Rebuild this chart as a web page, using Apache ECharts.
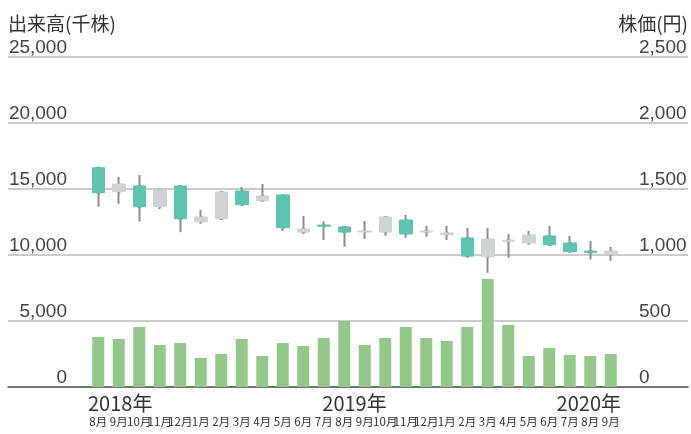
<!DOCTYPE html>
<html>
<head>
<meta charset="utf-8">
<script src="https://cdn.jsdelivr.net/npm/echarts@6/dist/echarts.min.js"></script>
<style>
  html, body { margin: 0; padding: 0; background: #fff; }
  #main { width: 691px; height: 434px; }
</style>
</head>
<body>
<div id="main"></div>
<script>
// 月 (2018年8月〜2020年9月)
var months = ['8月','9月','10月','11月','12月','1月','2月','3月','4月','5月','6月','7月','8月',
              '9月','10月','11月','12月','1月','2月','3月','4月','5月','6月','7月','8月','9月'];
var yearLabels = ['2018年', '2019年', '2020年'];

// 出来高 (千株)
var volume = [3790, 3640, 4550, 3180, 3330, 2200, 2500, 3640, 2350, 3330, 3110, 3710, 5000,
              3180, 3710, 4550, 3710, 3490, 4550, 8180, 4700, 2350, 2950, 2420, 2350, 2500];

// 株価 (円) : 始値, 終値, 安値, 高値
var openP  = [1661, 1480, 1523, 1366, 1523, 1252, 1275, 1485, 1411, 1455, 1174, 1227, 1212,
              1174, 1174, 1265, 1174, 1154, 1129,  987, 1104, 1091, 1144, 1091, 1030, 1003];
var closeP = [1472, 1538, 1366, 1492, 1275, 1288, 1477, 1381, 1447, 1207, 1197, 1218, 1174,
              1182, 1288, 1159, 1182, 1167,  992, 1121, 1112, 1152, 1078, 1025, 1018, 1030];
var lowP   = [1366, 1389, 1252, 1349, 1172, 1237, 1265, 1371, 1411, 1182, 1159, 1114, 1063,
              1121, 1146, 1129, 1139, 1114,  977,  866,  980, 1078, 1068, 1025,  965,  957];
var highP  = [1669, 1591, 1606, 1502, 1530, 1341, 1487, 1515, 1538, 1462, 1295, 1255, 1220,
              1258, 1288, 1303, 1220, 1220, 1205, 1202, 1159, 1182, 1220, 1144, 1106, 1061];

var volTicks = [0, 25000, 5000];   // min, max, interval
var priceTicks = [0, 2500, 500];

function comma(v) {
    return String(v).replace(/\B(?=(\d{3})+(?!\d))/g, ',');
}

// ヒゲ用 と 実体用
var candleFull = [], candleBody = [];
for (var i = 0; i < months.length; i++) {
    candleFull.push([openP[i], closeP[i], lowP[i], highP[i]]);
    candleBody.push([openP[i], closeP[i], Math.min(openP[i], closeP[i]), Math.max(openP[i], closeP[i])]);
}

var chart = echarts.init(document.getElementById('main'));

var labelFont = { fontFamily: 'Liberation Sans, Arial, sans-serif', fontSize: 19, color: '#444' };
var cjk = '"Noto Sans CJK JP", sans-serif';

var option = {
    animation: false,
    title: [
        { text: '出来高(千株)', left: 3, top: 9,
          textStyle: { fontFamily: cjk, fontSize: 19, fontWeight: 'normal', color: '#333' } },
        { text: '株価(円)', right: -2, top: 9,
          textStyle: { fontFamily: cjk, fontSize: 19, fontWeight: 'normal', color: '#333' } }
    ],
    grid: [
        { left: 8, right: 3, top: 57, bottom: 47 },
        { left: 88, right: 70, top: 57, bottom: 47 }
    ],
    xAxis: [
        {
            gridIndex: 0, type: 'value', min: 0, max: 1,
            axisLine: { show: true, lineStyle: { color: '#555', width: 1.5 } },
            axisTick: { show: false }, axisLabel: { show: false }, splitLine: { show: false }
        },
        {
            gridIndex: 1, type: 'category', data: months, position: 'bottom',
            axisLine: { show: false }, axisTick: { show: false },
            axisLabel: { interval: 0, margin: 29, fontFamily: cjk, fontSize: 11.5, color: '#333' }
        },
        {
            gridIndex: 1, type: 'category', data: yearLabels, position: 'bottom', boundaryGap: false,
            axisLine: { show: false }, axisTick: { show: false },
            axisLabel: { interval: 0, margin: 6, fontFamily: cjk, fontSize: 20, color: '#333',
                         alignMinLabel: 'left', alignMaxLabel: 'right' }
        }
    ],
    yAxis: [
        {
            gridIndex: 0, type: 'value', position: 'left',
            min: volTicks[0], max: volTicks[1], interval: volTicks[2],
            axisLine: { show: false }, axisTick: { show: false },
            splitLine: { lineStyle: { color: '#bbb', width: 1.5 } },
            axisLabel: Object.assign({ margin: -59, verticalAlign: 'bottom', formatter: comma }, labelFont)
        },
        {
            gridIndex: 0, type: 'value', position: 'right',
            min: priceTicks[0], max: priceTicks[1], interval: priceTicks[2],
            axisLine: { show: false }, axisTick: { show: false }, splitLine: { show: false },
            axisLabel: Object.assign({ margin: -49, verticalAlign: 'bottom', formatter: comma }, labelFont)
        },
        {
            gridIndex: 1, type: 'value', min: volTicks[0], max: volTicks[1], show: false
        },
        {
            gridIndex: 1, type: 'value', min: priceTicks[0], max: priceTicks[1], show: false
        }
    ],
    series: [
        {
            name: '出来高', type: 'bar', xAxisIndex: 1, yAxisIndex: 2,
            data: volume, barWidth: 12,
            itemStyle: { color: '#93c88a' }
        },
        {
            name: '株価', type: 'candlestick', xAxisIndex: 1, yAxisIndex: 3,
            data: candleFull, barWidth: 2,
            itemStyle: { color: '#8e8e8e', color0: '#8e8e8e', borderColor: '#8e8e8e', borderColor0: '#8e8e8e', borderWidth: 2 }
        },
        {
            name: '株価実体', type: 'candlestick', xAxisIndex: 1, yAxisIndex: 3,
            data: candleBody, barWidth: 13,
            itemStyle: { color: '#d1d2d4', color0: '#5ec4ad', borderColor: '#d1d2d4', borderColor0: '#5ec4ad', borderWidth: 1 }
        }
    ]
};

chart.setOption(option);
window.onresize = chart.resize;
</script>
</body>
</html>
